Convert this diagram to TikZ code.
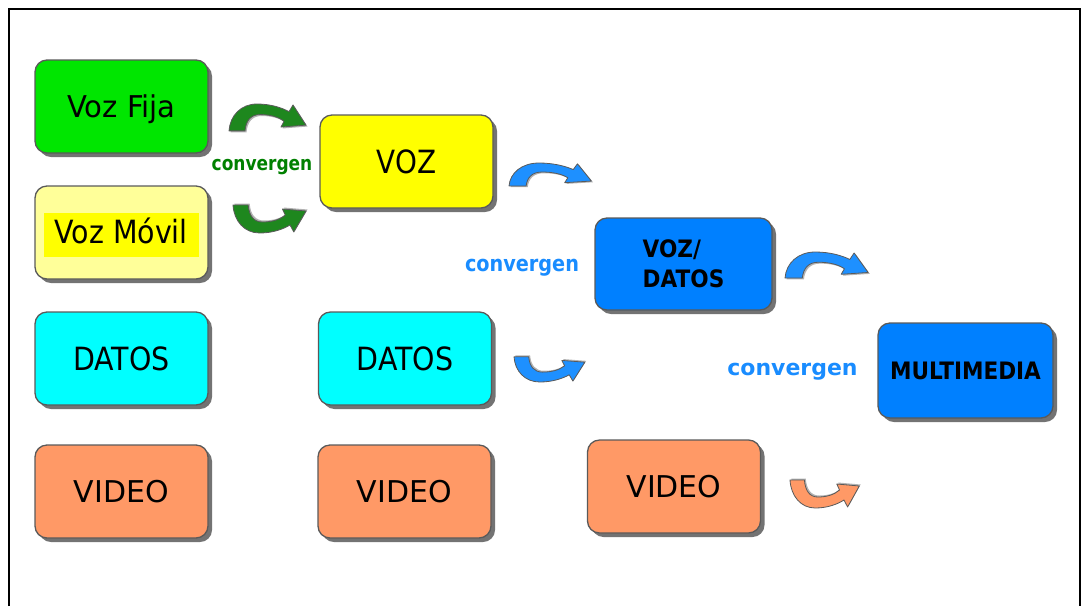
\documentclass[tikz,border=0pt]{standalone}
\usepackage{fontspec}
\usepackage{graphicx}
\setmainfont{DejaVu Sans}
\newfontfamily\tightbold{DejaVu Sans}[FakeStretch=0.9]
\usetikzlibrary{shadows}

\definecolor{fijagreen}{RGB}{0,230,0}
\definecolor{movilpale}{RGB}{255,255,153}
\definecolor{marker}{RGB}{255,255,0}
\definecolor{vozyellow}{RGB}{255,255,0}
\definecolor{datoscyan}{RGB}{0,255,255}
\definecolor{videosalmon}{RGB}{255,153,102}
\definecolor{netblue}{RGB}{0,128,255}
\definecolor{convgreen}{RGB}{0,128,0}
\definecolor{convblue}{RGB}{25,140,255}
\definecolor{arrowgreen}{RGB}{30,135,30}
\definecolor{arrowblue}{RGB}{30,144,255}
\definecolor{edgegray}{RGB}{90,90,90}

% text at a given size (pt) and horizontal squeeze
\newcommand\sized[3]{{\fontsize{#1pt}{#1pt}\selectfont\scalebox{#2}[1]{#3}}}

\tikzset{
  box/.style={draw=edgegray, line width=1.3pt, rounded corners=12pt,
    minimum width=173pt, minimum height=93pt, inner sep=0pt, text depth=0pt,
    drop shadow={shadow xshift=4pt, shadow yshift=-4pt, fill=black, opacity=0.55}},
  convlabel/.style={anchor=base, inner sep=0pt, font=\bfseries},
  % bent arrow: arcs over and comes down to the right
  bendarrow/.pic={
    \fill[black, opacity=0.3, shift={(1.5,1.5)}]
      (0,28) .. controls (1,12) and (12,0) .. (28,0)
      .. controls (42,0) and (53,4) .. (60,8)
      -- (64,1) -- (77,22) -- (52,24) -- (55,18)
      .. controls (49,13) and (40,11) .. (31,11)
      .. controls (22,11) and (17,17) .. (16,28) -- cycle;
    \filldraw[fill=#1, draw=edgegray, line width=0.8pt, line join=round]
      (0,28) .. controls (1,12) and (12,0) .. (28,0)
      .. controls (42,0) and (53,4) .. (60,8)
      -- (64,1) -- (77,22) -- (52,24) -- (55,18)
      .. controls (49,13) and (40,11) .. (31,11)
      .. controls (22,11) and (17,17) .. (16,28) -- cycle;
  }
}

\begin{document}
\begin{tikzpicture}[x=1pt, y=-1pt]
\useasboundingbox (0,0) rectangle (1081,606);

% frame
\draw[line width=2pt] (9,606) -- (9,9) -- (1080,9) -- (1080,606);

% first column
\node[box, fill=fijagreen] (fija) at (121.5,106.5) {\sized{30}{0.97}{Voz Fija}};
\node[box, fill=movilpale] (movil) at (121.5,232.5) {};
\node[fill=marker, inner sep=0pt, minimum width=155pt, text height=30pt, text depth=14pt]
  (movilmark) at (121,235) {\sized{32}{0.89}{Voz Móvil}};
\node[box, fill=datoscyan] (datosA) at (121.5,358.5) {\sized{32}{0.89}{DATOS}};
\node[box, fill=videosalmon] (videoA) at (121.5,491.5) {\sized{30}{1}{VIDEO}};

% second column
\node[box, fill=vozyellow] (voz) at (406.5,161.5) {\sized{32}{0.87}{VOZ}};
\node[box, fill=datoscyan] (datosB) at (405,358.5) {\sized{32}{0.89}{DATOS}};
\node[box, fill=videosalmon] (videoB) at (404.5,491.5) {\sized{30}{1}{VIDEO}};

% third column
\node[box, fill=netblue, minimum width=177pt, minimum height=92pt, align=left,
  font=\tightbold\bfseries\fontsize{24pt}{30pt}\selectfont] (vozdatos) at (683.5,264) {VOZ/\\DATOS};
\node[box, fill=videosalmon] (videoC) at (674,486.5) {\sized{30}{1}{VIDEO}};

% fourth column
\node[box, fill=netblue, minimum width=175pt, minimum height=95pt,
  font=\tightbold\bfseries\fontsize{24pt}{24pt}\selectfont] (multi) at (965.5,370.5) {MULTIMEDIA};

% labels
\node[convlabel, text=convgreen] (convA) at (262,170) {\sized{20}{0.85}{convergen}};
\node[convlabel, text=convblue] (convB) at (522,271) {\sized{22}{0.875}{convergen}};
\node[convlabel, text=convblue] (convC) at (792.5,375) {\sized{22}{1}{convergen}};

% bent arrows
\pic at (229,104) [yscale=0.96] {bendarrow=arrowgreen};
\pic at (233,233) [xscale=0.95, yscale=-1] {bendarrow=arrowgreen};
\pic at (509,163) [xscale=1.07, yscale=0.82] {bendarrow=arrowblue};
\pic at (785,252) [xscale=1.08, yscale=0.93] {bendarrow=arrowblue};
\pic at (514,382) [xscale=0.92, yscale=-0.9] {bendarrow=arrowblue};
\pic at (790,508) [xscale=0.9, yscale=-1] {bendarrow=videosalmon};
\end{tikzpicture}
\end{document}
